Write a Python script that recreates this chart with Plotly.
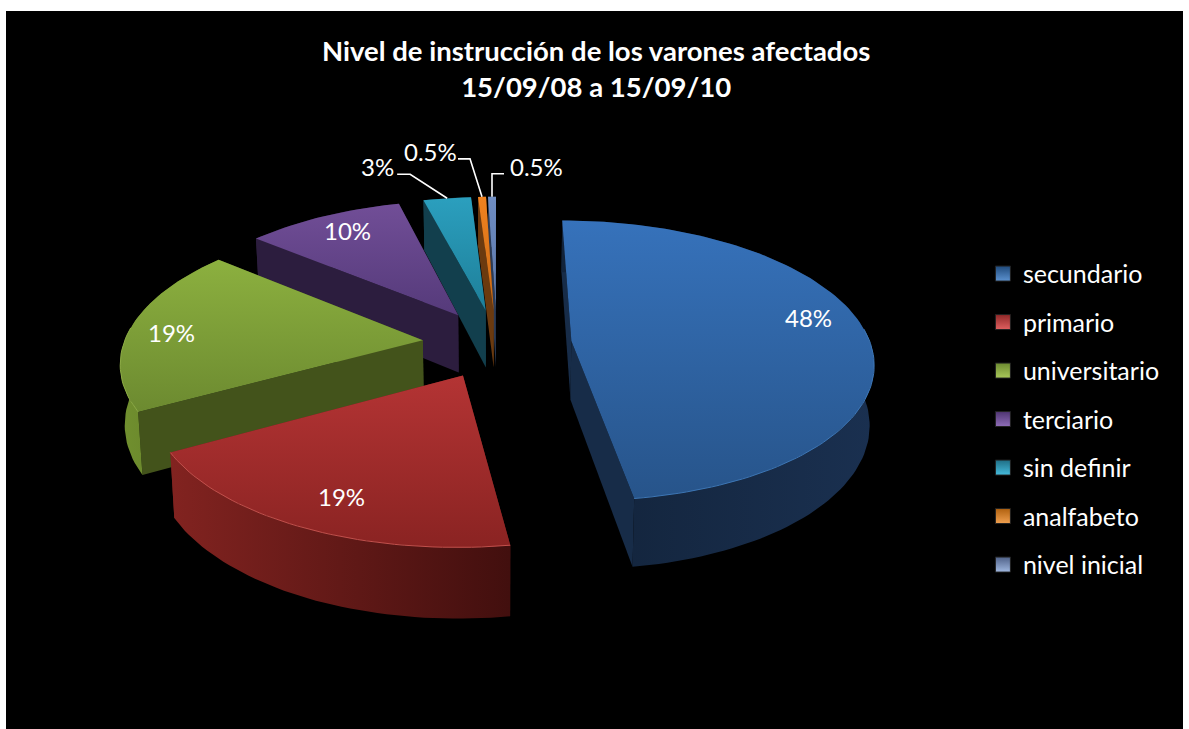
import numpy as np
import plotly.graph_objects as go

# ---------- data ----------
categories = ["secundario", "primario", "universitario", "terciario",
              "sin definir", "analfabeto", "nivel inicial"]
values = [47.65, 19.25, 19.15, 9.95, 3.0, 0.5, 0.5]
labels = ["48%", "19%", "19%", "10%", "3%", "0.5%", "0.5%"]
title_lines = ["Nivel de instrucción de los varones afectados", "15/09/08 a 15/09/10"]

# ---------- styles ----------
top_colors = [("#27548A", "#3672BB"), ("#8A2322", "#B43434"), ("#6C8A30", "#8CB03F"),
              ("#553A7A", "#714E97"), ("#1E7F99", "#2B9FBE"), ("#C96A15", "#F08220"),
              ("#5A76A8", "#6F8DC2")]
rim_colors = [("#12233A", "#1A3050"), ("#822320", "#420F0E"), ("#71902F", "#5E7826"),
              ("#2C1D3E", "#2C1D3E"), ("#123F4D", "#123F4D"), ("#6B3A0F", "#6B3A0F"),
              ("#2C3B55", "#2C3B55")]
face_colors = ["#172C48", "#6E1D1B", "#43531B", "#2C1D3E", "#123F4D", "#6B3A0F", "#2C3B55"]
edge_colors = ["#3D76B5", "#C2504C", "#8CAB45", "#714E97", "#2B9FBE", "#F08220", "#6F8DC2"]
legend_colors = ["#1F4A7C", "#8F2828", "#6C8A30", "#4F3572", "#1F6E85", "#B0610F", "#4F6188"]
legend_light = ["#5C92D0", "#E06060", "#A9C85A", "#8F6DB8", "#45BBDC", "#F0A050", "#A0B8E0"]
paint_order = [6, 5, 4, 3, 2, 0, 1]

XC, YC, RX, RY, PERSP, DEPTH, CONVERGE, EXPLODE = 497, 343.5, 299, 138, 0.14, 59, 0.012, 0.25
X0, X1, Y0, Y1 = 6, 1183, 11, 729


def project(u, y, z=0.0):
    s = 1 / (1 - PERSP * y)
    return XC + RX * u * s * (1 - CONVERGE * z), YC + RY * y * s + DEPTH * z * s


fractions = np.array(values) / sum(values)
edges = np.concatenate([[0], np.cumsum(fractions)]) * 2 * np.pi
mids = (edges[:-1] + edges[1:]) / 2


def slice_point(i, r, t, z=0.0):
    u = EXPLODE * np.sin(mids[i]) + r * np.sin(t)
    y = -(EXPLODE * np.cos(mids[i]) + r * np.cos(t))
    return project(u, y, z)


def poly(xs, ys, c0, c1, kind):
    return go.Scatter(
        x=list(xs) + [xs[0]], y=list(ys) + [ys[0]], mode="lines", fill="toself",
        line=dict(width=0), hoverinfo="skip", showlegend=False,
        fillgradient=dict(type=kind, colorscale=[[0, c0], [1, c1]]),
    )


fig = go.Figure()

# legend entries
for i, name in enumerate(categories):
    fig.add_trace(go.Scatter(
        x=[None], y=[None], mode="markers", name=name, legendgroup=name,
        marker=dict(symbol="square", size=15, color=legend_colors[i],
                    gradient=dict(type="vertical", color=legend_light[i]),
                    line=dict(width=1, color="#222222")),
    ))

for i in paint_order:
    a, b = edges[i], edges[i + 1]
    ts = np.linspace(a, b, max(3, int((b - a) / np.radians(1.5))))
    # cut faces
    for t in (a, b):
        p = [slice_point(i, 0, t), slice_point(i, 1, t), slice_point(i, 1, t, 1), slice_point(i, 0, t, 1)]
        fig.add_trace(poly([q[0] for q in p], [q[1] for q in p], face_colors[i], face_colors[i], "horizontal"))
    # rim wall
    top = [slice_point(i, 1, t) for t in ts]
    bot = [slice_point(i, 1, t, 1) for t in ts]
    ring = top + bot[::-1]
    fig.add_trace(poly([q[0] for q in ring], [q[1] for q in ring], rim_colors[i][0], rim_colors[i][1], "horizontal"))
    # top face
    ring = [slice_point(i, 0, a)] + top
    fig.add_trace(poly([q[0] for q in ring], [q[1] for q in ring], top_colors[i][0], top_colors[i][1], "vertical"))
    # highlight on the front part of the rim
    front = [slice_point(i, 1, t) for t in ts if np.cos(t) < 0.1]
    if front:
        fig.add_trace(go.Scatter(x=[q[0] for q in front], y=[q[1] for q in front], mode="lines",
                                 line=dict(width=1, color=edge_colors[i]), hoverinfo="skip", showlegend=False))

# leader lines: from rim midpoint through an elbow offset
leader_offsets = {4: [(-37, -24), (-50, -24)], 5: [(-12, -38), (-24, -38)], 6: [(0, -23), (12, -23)]}
for i, offs in leader_offsets.items():
    sx, sy = slice_point(i, 1, mids[i])
    fig.add_trace(go.Scatter(x=[sx] + [sx + o[0] for o in offs], y=[sy] + [sy + o[1] for o in offs],
                             mode="lines", line=dict(width=1.6, color="white"),
                             hoverinfo="skip", showlegend=False))

label_pos = [(808, 317), (341, 496), (171, 332), (347, 230), (377, 166), (430, 151), (536, 166)]
annotations = [dict(x=p[0], y=p[1], xref="x", yref="y", text=t, showarrow=False,
                    font=dict(family="Lato", size=24, color="white"))
               for p, t in zip(label_pos, labels)]
annotations.append(dict(x=596, y=68, xref="x", yref="y", showarrow=False, align="center",
                        text="<b>" + "</b><br><b>".join(title_lines) + "</b>",
                        font=dict(family="Lato", size=27.5, color="white")))

fig.update_layout(
    width=1189, height=729, autosize=False,
    margin=dict(l=X0, r=1189 - X1, t=Y0, b=729 - Y1, pad=0),
    paper_bgcolor="white", plot_bgcolor="black",
    xaxis=dict(range=[X0, X1], visible=False, fixedrange=True),
    yaxis=dict(range=[Y1, Y0], visible=False, fixedrange=True),
    annotations=annotations,
    legend=dict(x=0.83, y=0.666, xanchor="left", yanchor="top", bgcolor="rgba(0,0,0,0)",
                font=dict(family="Lato", size=25, color="white"), tracegroupgap=13,
                itemsizing="trace", itemclick=False, itemdoubleclick=False),
)
fig.write_html("out.html", config=dict(displayModeBar=False),
               post_script="document.body.style.margin='0';document.body.style.overflow='hidden';")
